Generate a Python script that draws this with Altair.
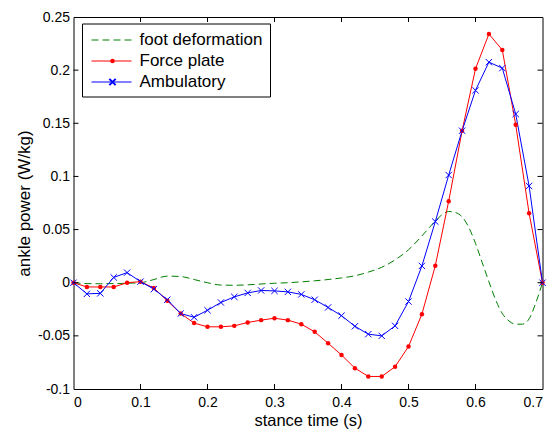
import altair as alt
import pandas as pd

# ---- data ----
t_pts = [0.00, 0.02, 0.04, 0.06, 0.08, 0.10, 0.12, 0.14, 0.16, 0.18,
         0.20, 0.22, 0.24, 0.26, 0.28, 0.30, 0.32, 0.34, 0.36, 0.38,
         0.40, 0.42, 0.44, 0.46, 0.48, 0.50, 0.52, 0.54, 0.56, 0.58,
         0.60, 0.62, 0.64, 0.66, 0.68, 0.70]

force_plate = [0.0, -0.004, -0.004, -0.004, 0.0, 0.001, -0.005, -0.017, -0.029, -0.038,
               -0.0415, -0.0415, -0.0406, -0.0374, -0.0352, -0.0334, -0.0352, -0.039, -0.0462, -0.0569,
               -0.068, -0.0804, -0.0882, -0.0882, -0.079, -0.060, -0.0296, 0.016, 0.0767, 0.143,
               0.2013, 0.234, 0.219, 0.1487, 0.0653, 0.0]

ambulatory = [0.0, -0.0105, -0.010, 0.005, 0.0095, 0.001, -0.006, -0.016, -0.029, -0.0325,
              -0.0259, -0.0186, -0.0133, -0.0096, -0.0073, -0.0077, -0.0086, -0.011, -0.016, -0.0233,
              -0.031, -0.041, -0.0484, -0.050, -0.0406, -0.0177, 0.0158, 0.0575, 0.1013, 0.143,
              0.181, 0.2075, 0.2019, 0.1587, 0.091, 0.0]

t_foot = [0.00, 0.02, 0.04, 0.06, 0.08, 0.10, 0.12, 0.14, 0.16, 0.18,
          0.20, 0.22, 0.24, 0.26, 0.28, 0.30, 0.32, 0.34, 0.36, 0.38,
          0.40, 0.42, 0.44, 0.46, 0.48, 0.50, 0.52, 0.54, 0.55, 0.56,
          0.57, 0.58, 0.59, 0.60, 0.61, 0.62, 0.63, 0.64, 0.65, 0.66,
          0.67, 0.68, 0.69, 0.70]
foot_deformation = [0.0, -0.0008, -0.001, -0.0008, -0.0005, 0.0, 0.003, 0.0062, 0.0058, 0.003,
                    0.0, -0.0022, -0.0024, -0.002, -0.0012, -0.0005, 0.0, 0.0008, 0.0018, 0.003,
                    0.0045, 0.0065, 0.010, 0.0145, 0.0215, 0.031, 0.044, 0.058, 0.064, 0.067,
                    0.066, 0.062, 0.052, 0.037, 0.019, 0.001, -0.016, -0.029, -0.036, -0.039,
                    -0.039, -0.034, -0.019, 0.0]

series_names = ["foot deformation", "Force plate", "Ambulatory"]
x_ticks = [0, 0.1, 0.2, 0.3, 0.4, 0.5, 0.6, 0.7]
y_ticks = [-0.1, -0.05, 0, 0.05, 0.1, 0.15, 0.2, 0.25]

# ---- styling ----
W, H = 469, 372
FONT = "Liberation Sans"
GREEN, RED, BLUE = "#008000", "#ff0000", "#0000ff"
XPATH = "M-1,-1L1,1M1,-1L-1,1"
LBL = "replace(format(datum.value, '~g'), '\u2212', '-')"

df_main = pd.DataFrame({"t": t_pts, "fp": force_plate, "amb": ambulatory})
df_foot = pd.DataFrame({"t": t_foot, "v": foot_deformation})

xs = alt.Scale(domain=[0, 0.7], nice=False, zero=False)
ys = alt.Scale(domain=[-0.1, 0.25], nice=False, zero=False)

x_axis = alt.Axis(values=x_ticks, ticks=False, grid=False, domain=False,
                  labelFont=FONT, labelFontSize=14, labelColor="black", labelPadding=6,
                  labelExpr=LBL,
                  title="stance time (s)", titleFont=FONT, titleFontSize=16.5,
                  titleFontWeight="normal", titleColor="black",
                  titleX=W / 2, titleY=31, titleBaseline="middle", titleAlign="center")
y_axis = alt.Axis(values=y_ticks, ticks=False, grid=False, domain=False,
                  labelFont=FONT, labelFontSize=14, labelColor="black", labelPadding=4,
                  labelExpr=LBL,
                  title="ankle power (W/kg)", titleFont=FONT, titleFontSize=17,
                  titleFontWeight="normal", titleColor="black",
                  titleX=-49, titleY=H / 2, titleBaseline="middle", titleAlign="center",
                  titleAngle=-90)

base = alt.Chart(df_main)

foot = alt.Chart(df_foot).mark_line(color=GREEN, strokeWidth=1, strokeDash=[7, 4],
                                    interpolate="monotone").encode(
    x=alt.X("t:Q", scale=xs, axis=x_axis),
    y=alt.Y("v:Q", scale=ys, axis=y_axis),
)
fp_line = base.mark_line(color=RED, strokeWidth=1).encode(x=alt.X("t:Q", scale=xs), y=alt.Y("fp:Q", scale=ys))
fp_pts = base.mark_point(shape="circle", filled=True, color=RED, size=20, opacity=1).encode(
    x=alt.X("t:Q", scale=xs), y=alt.Y("fp:Q", scale=ys))
amb_line = base.mark_line(color=BLUE, strokeWidth=1).encode(x=alt.X("t:Q", scale=xs), y=alt.Y("amb:Q", scale=ys))
amb_pts = base.mark_point(shape=XPATH, filled=False, color=BLUE, size=40, strokeWidth=1, opacity=1).encode(
    x=alt.X("t:Q", scale=xs), y=alt.Y("amb:Q", scale=ys))

# inward ticks (MATLAB style) on all four sides
xt = pd.DataFrame({"v": x_ticks[1:-1]})
yt = pd.DataFrame({"v": y_ticks[1:-1]})
TK = 5
ticks = [
    alt.Chart(xt).mark_rule(color="black", strokeWidth=1).encode(
        x=alt.X("v:Q", scale=xs), y=alt.value(H), y2=alt.value(H - TK)),
    alt.Chart(xt).mark_rule(color="black", strokeWidth=1).encode(
        x=alt.X("v:Q", scale=xs), y=alt.value(0), y2=alt.value(TK)),
    alt.Chart(yt).mark_rule(color="black", strokeWidth=1).encode(
        y=alt.Y("v:Q", scale=ys), x=alt.value(0), x2=alt.value(TK)),
    alt.Chart(yt).mark_rule(color="black", strokeWidth=1).encode(
        y=alt.Y("v:Q", scale=ys), x=alt.value(W), x2=alt.value(W - TK)),
]

# legend box
one = pd.DataFrame({"a": [0]})
leg = [
    alt.Chart(one).mark_rect(fill="white", stroke="black", strokeWidth=1).encode(
        x=alt.value(9), x2=alt.value(197), y=alt.value(7), y2=alt.value(80)),
]
entries = [(series_names[0], GREEN, [7, 4], None, 23),
           (series_names[1], RED, None, "circle", 44),
           (series_names[2], BLUE, None, XPATH, 65)]
for name, col, dash, marker, yy in entries:
    rule_kw = dict(color=col, strokeWidth=1)
    if dash:
        rule_kw["strokeDash"] = dash
    leg.append(alt.Chart(one).mark_rule(**rule_kw).encode(
        x=alt.value(18), x2=alt.value(58), y=alt.value(yy)))
    if marker == "circle":
        leg.append(alt.Chart(one).mark_point(shape="circle", filled=True, color=col, size=20, opacity=1).encode(
            x=alt.value(39), y=alt.value(yy)))
    elif marker:
        leg.append(alt.Chart(one).mark_point(shape=marker, filled=False, color=col, size=40, opacity=1).encode(
            x=alt.value(39), y=alt.value(yy)))
    leg.append(alt.Chart(pd.DataFrame({"label": [name]})).mark_text(
        align="left", baseline="middle", font=FONT, fontSize=17, color="black").encode(
        x=alt.value(66), y=alt.value(yy), text="label:N"))

chart = alt.layer(foot, fp_line, amb_line, fp_pts, amb_pts, *ticks, *leg).properties(
    width=W, height=H,
    autosize=alt.AutoSizeParams(type="none"),
    padding={"left": 65.5, "top": 9, "right": 8.5, "bottom": 43},
    background="white",
).configure_view(stroke="black", strokeWidth=1)

chart.save("out.html", embed_options={"renderer": "svg", "actions": False})
